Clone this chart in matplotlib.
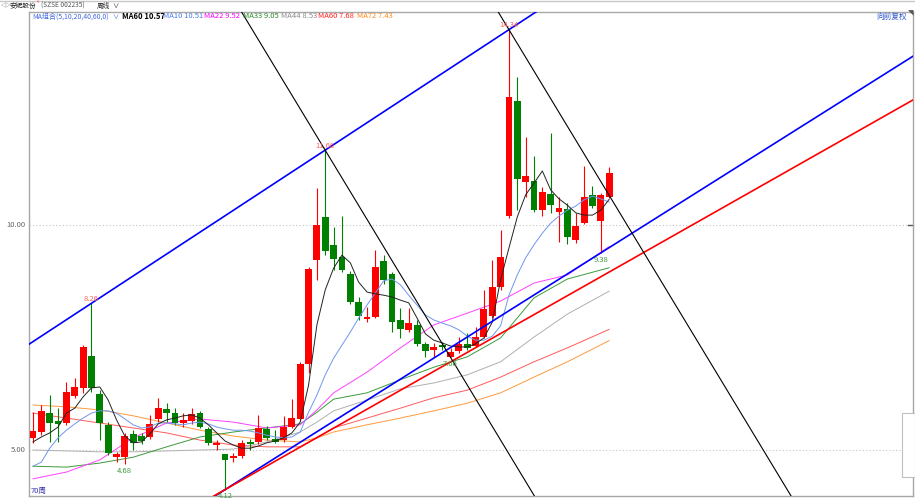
import matplotlib
matplotlib.use("Agg")
import matplotlib.pyplot as plt
from matplotlib.patches import Rectangle

plt.rcParams['font.family'] = ['Noto Sans CJK SC', 'DejaVu Sans']

# weekly candles, oldest first
opens = [5.27, 5.40, 5.82, 5.64, 5.60, 6.20, 6.38, 7.09, 6.24, 5.56,
         4.84, 4.84, 5.36, 5.31, 5.29, 5.69, 5.91, 5.82, 5.60, 5.64,
         5.82, 5.47, 5.11, 4.91, 4.82, 4.87, 5.16, 5.18, 5.47, 5.24,
         5.22, 5.51, 5.69, 6.91, 9.22, 10.18, 9.56, 9.29, 8.91, 8.29,
         7.91, 7.96, 9.20, 8.91, 7.89, 7.67, 7.78, 7.36, 7.22, 7.33,
         7.07, 7.20, 7.36, 7.31, 7.51, 7.98, 8.62, 10.20, 12.76, 10.96,
         10.98, 10.33, 10.69, 10.29, 10.36, 9.67, 10.04, 10.67, 10.09, 10.62]
highs = [5.84, 6.00, 6.22, 5.93, 6.51, 6.60, 7.33, 8.26, 6.33, 5.62,
         4.96, 5.38, 5.44, 5.38, 5.78, 6.16, 6.04, 5.93, 5.82, 5.93,
         5.87, 5.51, 5.22, 4.91, 4.93, 5.22, 5.24, 5.78, 5.53, 5.44,
         5.76, 6.13, 6.96, 9.07, 10.82, 11.66, 9.96, 10.20, 8.98, 8.40,
         8.18, 9.44, 9.33, 8.96, 8.16, 8.16, 7.89, 7.40, 7.38, 7.40,
         7.27, 7.51, 7.60, 7.73, 8.56, 9.22, 9.89, 14.34, 13.29, 11.96,
         11.53, 10.84, 12.04, 10.62, 10.49, 10.27, 11.31, 10.87, 10.71, 11.29]
lows = [5.16, 5.33, 5.18, 5.18, 5.56, 6.16, 6.27, 6.29, 5.22, 4.89,
        4.73, 4.68, 5.00, 5.13, 5.24, 5.62, 5.62, 5.56, 5.51, 5.58,
        5.49, 5.11, 5.00, 4.12, 4.73, 4.82, 5.00, 5.13, 5.22, 5.16,
        5.18, 5.49, 5.67, 6.71, 8.78, 9.33, 9.00, 8.96, 8.24, 7.89,
        7.84, 7.93, 8.69, 7.62, 7.49, 7.62, 7.31, 7.07, 7.07, 7.22,
        7.06, 7.16, 7.22, 7.29, 7.49, 7.93, 8.56, 10.15, 10.33, 10.62,
        10.29, 10.20, 10.27, 9.62, 9.58, 9.60, 10.02, 10.38, 9.38, 10.60]
closes = [5.42, 5.87, 5.60, 5.58, 6.29, 6.40, 7.29, 6.38, 5.60, 4.93,
          4.91, 5.31, 5.16, 5.20, 5.58, 5.93, 5.82, 5.60, 5.67, 5.80,
          5.51, 5.16, 5.16, 4.78, 4.87, 5.16, 5.13, 5.49, 5.27, 5.18,
          5.51, 5.71, 6.91, 9.02, 10.00, 9.42, 9.24, 9.00, 8.29, 7.98,
          7.96, 9.07, 8.78, 7.84, 7.69, 7.82, 7.36, 7.20, 7.29, 7.29,
          7.17, 7.36, 7.27, 7.51, 8.13, 8.62, 9.29, 12.84, 11.02, 11.09,
          10.33, 10.73, 10.44, 10.38, 9.73, 9.98, 10.62, 10.42, 10.67, 11.16]

# short moving averages, one value per week
ma5 = [5.18, 5.29, 5.38, 5.51, 5.82, 5.93, 6.18, 6.38, 6.40, 6.11,
       5.67, 5.31, 5.16, 5.18, 5.36, 5.58, 5.67, 5.71, 5.76, 5.78,
       5.71, 5.56, 5.38, 5.20, 5.11, 5.04, 5.04, 5.09, 5.16, 5.20,
       5.27, 5.38, 5.62, 6.44, 7.78, 8.56, 9.04, 9.33, 9.16, 8.73,
       8.51, 8.47, 8.44, 8.40, 8.33, 8.27, 7.93, 7.58, 7.44, 7.38,
       7.31, 7.29, 7.29, 7.36, 7.49, 7.84, 8.78, 9.49, 10.18, 10.67,
       10.93, 11.20, 10.78, 10.58, 10.44, 10.27, 10.22, 10.22, 10.33, 10.57]
ma10 = [4.64, 4.73, 5.04, 5.27, 5.44, 5.58, 5.71, 5.82, 5.87, 5.87,
        5.82, 5.69, 5.56, 5.49, 5.51, 5.60, 5.60, 5.58, 5.56, 5.60,
        5.62, 5.58, 5.51, 5.47, 5.44, 5.44, 5.42, 5.38, 5.33, 5.29,
        5.27, 5.29, 5.40, 5.84, 6.22, 6.67, 7.04, 7.33, 7.62, 7.93,
        8.22, 8.49, 8.76, 8.80, 8.67, 8.44, 8.22, 8.00, 7.89, 7.82,
        7.76, 7.67, 7.53, 7.44, 7.44, 7.53, 7.76, 8.44, 8.89, 9.27,
        9.56, 9.82, 10.04, 10.20, 10.33, 10.42, 10.56, 10.64, 10.58, 10.51]

# long moving averages, sampled at these weeks
long_weeks = [0, 4, 8, 12, 16, 20, 24, 28, 32, 34, 36, 40, 44, 48, 52, 56, 60, 64, 69]
ma22 = [4.36, 4.51, 4.78, 5.27, 5.60, 5.69, 5.62, 5.49, 5.56, 5.89, 6.27, 6.73, 7.27, 7.78, 8.04, 8.31, 8.71, 8.89, 9.52]
ma33 = [4.64, 4.62, 4.71, 4.84, 5.07, 5.29, 5.40, 5.49, 5.58, 5.84, 6.13, 6.27, 6.56, 6.84, 7.07, 7.49, 8.38, 8.80, 9.05]
ma44 = [5.00, 4.98, 4.96, 4.96, 4.98, 5.00, 5.02, 5.18, 5.40, 5.62, 5.87, 6.11, 6.36, 6.49, 6.67, 6.96, 7.51, 8.02, 8.53]
ma60 = [5.82, 5.71, 5.60, 5.49, 5.38, 5.22, 5.11, 5.07, 5.07, 5.27, 5.49, 5.71, 5.93, 6.16, 6.33, 6.62, 6.96, 7.27, 7.68]
ma72 = [6.00, 5.96, 5.89, 5.76, 5.60, 5.44, 5.31, 5.22, 5.18, 5.27, 5.40, 5.56, 5.71, 5.87, 6.04, 6.27, 6.62, 6.96, 7.43]

# the red support line leaves the 4.12 low and meets the right border here
red_line_end = (105.4, 12.78)

grid_prices = [5.0, 10.0]
high_weeks = [7, 35, 57]        # highs printed on the chart
low_weeks = [11, 23, 50, 68]    # lows printed on the chart

legend = [("MA60 10.57", "#000000", 122, "bold"),
          ("MA10 10.51", "#4d7be8", 163, "normal"),
          ("MA22 9.52", "#ff00ff", 204, "normal"),
          ("MA33 9.05", "#2a8a2a", 243, "normal"),
          ("MA44 8.53", "#8c8c8c", 281, "normal"),
          ("MA60 7.68", "#ff2020", 318, "normal"),
          ("MA72 7.43", "#ff8a1a", 357, "normal")]

UP = "#ff0000"
DOWN = "#008000"
W, H = 915, 500

fig = plt.figure(figsize=(W / 100, H / 100), dpi=100)
ax = fig.add_axes([29 / W, 4 / H, 884 / W, 484 / H])
ax.set_xlim(-0.48, 105.39)
ax.set_ylim(3.978, 14.733)
ax.set_xticks([])
ax.set_yticks([])
for s in ax.spines.values():
    s.set_color("#a8a8a8")
    s.set_linewidth(1.0)

for p in grid_prices:
    ax.axhline(p, color="#c4c4c4", lw=0.8, ls=(0, (1, 2)), zorder=1)
    ax.text(-0.004, p, "%.2f" % p, transform=ax.get_yaxis_transform(),
            ha="right", va="center", fontsize=5.5, color="#666666", clip_on=False)

# candles
n = len(opens)
weeks = list(range(n))
cols = [UP if closes[i] >= opens[i] else DOWN for i in weeks]
ax.vlines(weeks, lows, highs, colors=cols, lw=0.8, zorder=3)
bottoms = [min(opens[i], closes[i]) for i in weeks]
heights = [max(abs(closes[i] - opens[i]), 0.04) for i in weeks]
ax.bar(weeks, heights, bottom=bottoms, width=0.82, color=cols, lw=0, zorder=4)

# moving averages
ax.plot(long_weeks, ma72, color="#ff9a3c", lw=0.7, zorder=2)
ax.plot(long_weeks, ma60, color="#ff5a5a", lw=0.7, zorder=2)
ax.plot(long_weeks, ma44, color="#b0b0b0", lw=0.7, zorder=2)
ax.plot(long_weeks, ma33, color="#3c9a3c", lw=0.7, zorder=2)
ax.plot(long_weeks, ma22, color="#ff40ff", lw=0.7, zorder=2)
ax.plot(weeks, ma10, color="#6f96f0", lw=0.7, zorder=5)
ax.plot(weeks, ma5, color="#222222", lw=0.7, zorder=5)

# trend lines drawn on the chart
dn_slope = (lows[50] - highs[35]) / (50 - 35)
ax.axline((7, highs[7]), (57, highs[57]), color="#0000ff", lw=1.2, zorder=6)
ax.axline((23, lows[23]), (68, lows[68]), color="#0000ff", lw=1.2, zorder=6)
ax.axline((23, lows[23]), red_line_end, color="#ff0000", lw=1.2, zorder=6)
ax.axline((35, highs[35]), (50, lows[50]), color="#000000", lw=0.8, zorder=6)
ax.axline((57, highs[57]), slope=dn_slope, color="#000000", lw=0.8, zorder=6)

# high / low labels
for i in high_weeks:
    ax.annotate("%.2f" % highs[i], (i, highs[i]), xytext=(0, 0.5), textcoords="offset points",
                ha="center", va="bottom", fontsize=5.5, color="#ff6060", zorder=7)
for i in low_weeks:
    ax.annotate("%.2f" % lows[i], (i, lows[i]), xytext=(0, -2), textcoords="offset points",
                ha="center", va="top", fontsize=5.5, color="#3c9a3c", zorder=7)

ax.text(0.002, 0.003, "70周", transform=ax.transAxes, ha="left", va="bottom",
        fontsize=5.5, color="#3333aa")
ax.plot([1.0, 0.994], [10.0, 10.0], transform=ax.get_yaxis_transform(),
        color="#555555", lw=1.0, clip_on=False)


def px(x, y):
    return x / W, 1 - y / H


# header bar
fig.add_artist(plt.Line2D([0, 1], [1 - 1 / H, 1 - 1 / H], color="#c8c8c8", lw=1.0))
fig.text(*px(1, 5.5), "◁▷", fontsize=3.8, color="#444444", va="center")
fig.text(*px(10, 5.5), "安妮股份", fontsize=4.8, color="#222222", va="center")
fig.text(*px(37, 4), "®", fontsize=3.5, color="#ff3030", va="center")
fig.text(*px(41, 5.5), "(SZSE 002235)", fontsize=4.8, color="#555555", va="center")
fig.text(*px(97, 5.5), "周线", fontsize=4.8, color="#222222", va="center")
fig.text(*px(112, 5.5), "∨", fontsize=4.5, color="#222222", va="center")

fig.text(*px(32, 16.5), "MA组合(5,10,20,40,60,0)", fontsize=5.0, color="#4169e1", va="center")
fig.text(*px(112, 16.5), "∨", fontsize=4.5, color="#4169e1", va="center")
for label, c, x, wt in legend:
    fig.text(*px(x, 16.5), label, fontsize=5.5, color=c, fontweight=wt, va="center")
fig.text(*px(907, 16.5), "向前复权", fontsize=5.5, color="#3355cc", va="center", ha="right")
fig.text(*px(913, 14), "◥", fontsize=4, color="#555555", va="center", ha="right")

# small side box on the right
fig.add_artist(Rectangle(px(902, 477), 13 / W, 64 / H, facecolor="white",
                         edgecolor="#c0c0c0", lw=0.8))

fig.savefig("out.png", dpi=100)
